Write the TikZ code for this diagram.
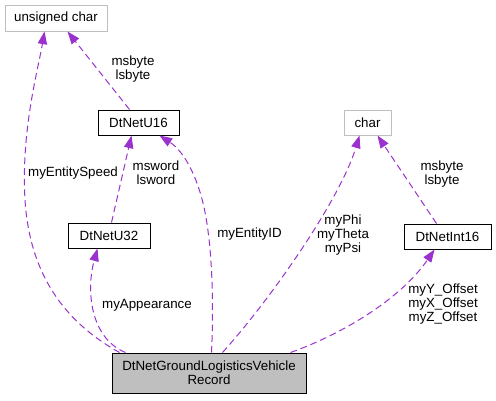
\documentclass[tikz,border=0pt]{standalone}
\usepackage{fontspec}
\setmainfont{Liberation Sans}
\usetikzlibrary{arrows.meta,calc}
\definecolor{edgecol}{HTML}{9A32CD}
\definecolor{lightframe}{HTML}{BFBFBF}
\definecolor{mainfill}{HTML}{BFBFBF}
\tikzset{
  box/.style={draw=black, line width=0.75pt, fill=white, inner sep=0pt, align=center,
    font=\fontsize{10pt}{10.5pt}\selectfont},
  greybox/.style={box, draw=lightframe},
  mainbox/.style={box, fill=mainfill},
  edge/.style={draw=edgecol, line width=0.75pt, dash pattern=on 5pt off 3pt,
    -{Triangle[length=9.5pt,width=7pt,fill=edgecol]}},
  lbl/.style={align=center, inner sep=0pt, font=\fontsize{10pt}{10.5pt}\selectfont}
}
\begin{document}
\begin{tikzpicture}[x=0.75pt,y=-0.75pt]
\useasboundingbox (0,0) rectangle (496,400);
\node[greybox, minimum width=76.5pt, minimum height=19.5pt] (uchar) at (56,18) {unsigned char};
\node[box, minimum width=60.75pt, minimum height=18.75pt] (u16) at (138.5,122.5) {DtNetU16};
\node[box, minimum width=61.5pt, minimum height=18.75pt] (u32) at (109,235.5) {DtNetU32};
\node[mainbox, minimum width=145.5pt, minimum height=30pt] (main) at (209,373) {DtNetGroundLogisticsVehicle\\Record};
\node[greybox, minimum width=35.25pt, minimum height=18.75pt] (char) at (367.5,122.5) {char};
\node[box, minimum width=65.25pt, minimum height=18.75pt] (int16) at (447.5,236.5) {DtNetInt16};

% main -> unsigned char
\draw[edge] ($(main.north west)+(8,0)$) .. controls (70,325) and (30,280) .. (25,200)
  .. controls (21,130) and (38,70) .. ($(uchar.south west)+(40,0)$);
% DtNetU16 -> unsigned char
\draw[edge] ($(u16.north west)+(32,0)$) -- ($(uchar.south west)+(63,0)$);
% DtNetU32 -> DtNetU16
\draw[edge] ($(u32.north west)+(44,0)$) -- ($(u16.south west)+(34,0)$);
% main -> DtNetU16
\draw[edge] ($(main.north west)+(100,0)$) .. controls (214,300) and (212,240) .. (203,203)
  .. controls (197,178) and (185,152) .. ($(u16.south west)+(62,0)$);
% main -> DtNetU32
\draw[edge] ($(main.north west)+(14,0)$) .. controls (90,338) and (86,290) .. ($(u32.south west)+(30,0)$);
% main -> char
\draw[edge] ($(main.north west)+(111,0)$) .. controls (270,300) and (340,200) .. ($(char.south west)+(16,0)$);
% DtNetInt16 -> char
\draw[edge] ($(int16.north west)+(33,0)$) -- ($(char.south west)+(34,0)$);
% main -> DtNetInt16
\draw[edge] ($(main.north east)+(-16,0)$) .. controls (340,335) and (400,300) .. ($(int16.south west)+(31,0)$);

\node[lbl] (l1) at (133,69.5) {msbyte\\lsbyte};
\node[lbl] (l2) at (73,173) {myEntitySpeed};
\node[lbl] (l3) at (156,173) {msword\\lsword};
\node[lbl] (l4) at (249.5,234) {myEntityID};
\node[lbl] (l5) at (147,305) {myAppearance};
\node[lbl] (l6) at (343,235) {myPhi\\myTheta\\myPsi};
\node[lbl] (l7) at (442,174) {msbyte\\lsbyte};
\node[lbl] (l8) at (443,304) {myY\_Offset\\myX\_Offset\\myZ\_Offset};
\end{tikzpicture}
\end{document}
